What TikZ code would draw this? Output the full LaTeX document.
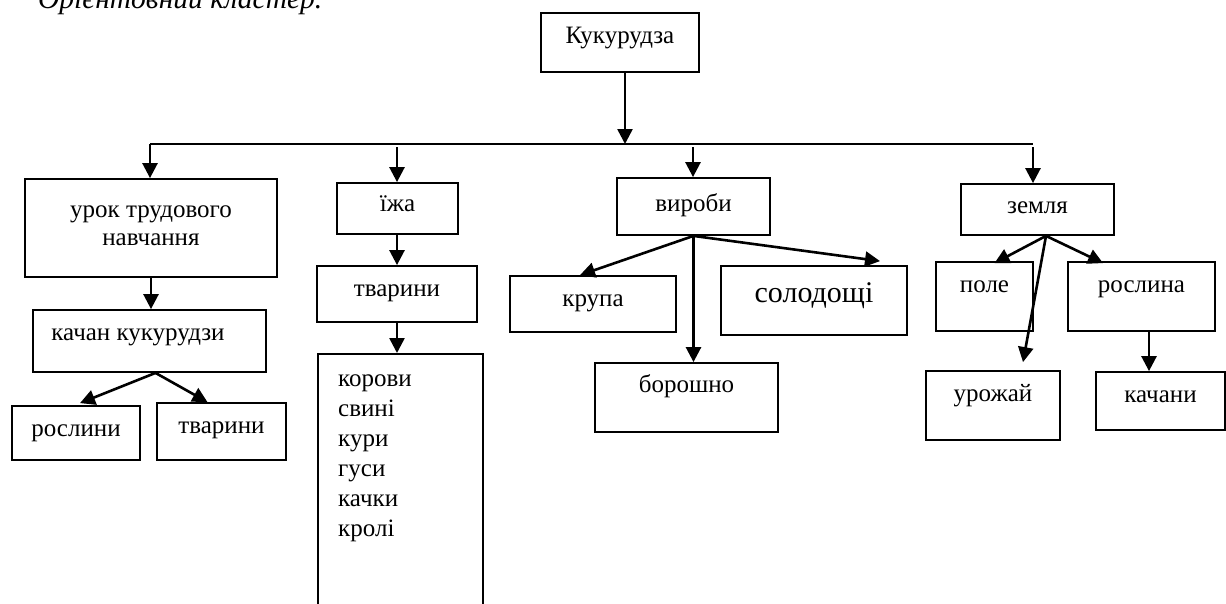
\documentclass[tikz,border=0pt]{standalone}
\usepackage{fontspec}
\setmainfont{Liberation Serif}
\usetikzlibrary{arrows.meta}
\begin{document}
\begin{tikzpicture}[x=1pt,y=-1pt,
  box/.style={draw, line width=1.8pt, inner sep=0pt, font=\fontsize{25}{28}\selectfont, text height=17.5pt, text depth=11pt},
  txt/.style={inner sep=0pt, font=\fontsize{25}{28}\selectfont, text height=17.5pt, text depth=11pt},
  txtm/.style={inner sep=0pt, font=\fontsize{25}{28}\selectfont, align=center},
  arr/.style={line width=2.6pt, -{Triangle[width=15pt,length=15pt]}},
  ln/.style={line width=2.6pt}]
\useasboundingbox (0,0) rectangle (1226,603);
% title (cut off at top)
\node[inner sep=0pt, anchor=base west, font=\fontsize{29.5}{32}\selectfont\itshape] (title) at (38,8) {Орієнтовний кластер.};
% boxes
\node[box, minimum width=158pt, minimum height=59pt] (kuk) at (620,42.5) {};
\node[txt] (kukT) at (620,40) {Кукурудза};
\node[box, minimum width=252pt, minimum height=98pt] (urok) at (151,228) {};
\node[txtm] (urokT) at (151,225.5) {урок трудового\\навчання};
\node[box, minimum width=233pt, minimum height=62pt] (kach) at (149.5,341) {};
\node[txt] (kachT) at (138,337) {качан кукурудзи};
\node[box, minimum width=128pt, minimum height=54pt] (rosl) at (76,433) {рослини};
\node[box, minimum width=129pt, minimum height=57pt] (tvar1) at (221.5,431.5) {};
\node[txt] (tvar1T) at (221.5,430) {тварини};
\node[box, minimum width=121pt, minimum height=51pt] (ija) at (397.5,208.5) {їжа};
\node[box, minimum width=160pt, minimum height=56pt] (tvar2) at (397,294) {};
\node[txt] (tvar2T) at (397,293) {тварини};
\node[box, anchor=north west, minimum width=165pt, minimum height=280pt] (list) at (317,353) {};
\node[txtm, anchor=north west, align=left, font=\fontsize{25}{30}\selectfont] (listT) at (338,375) {корови\\свині\\кури\\гуси\\качки\\кролі};
\node[box, minimum width=153pt, minimum height=57pt] (vyroby) at (693.5,206.5) {};
\node[txt] (vyrobyT) at (693.5,208) {вироби};
\node[box, minimum width=166pt, minimum height=56pt] (krupa) at (593,304) {};
\node[txt] (krupaT) at (593,303) {крупа};
\node[box, minimum width=186pt, minimum height=69pt] (solod) at (814,300.5) {};
\node[txt, font=\fontsize{30}{34}\selectfont, text height=21pt, text depth=13pt] (solodT) at (814,298) {солодощі};
\node[box, minimum width=183pt, minimum height=69pt] (borosh) at (686.5,397.5) {};
\node[txt] (boroshT) at (686.5,389) {борошно};
\node[box, minimum width=153pt, minimum height=51pt] (zemlia) at (1037.5,209.5) {};
\node[txt] (zemliaT) at (1037.5,210) {земля};
\node[box, minimum width=97pt, minimum height=69pt] (pole) at (984.5,296.5) {};
\node[txt] (poleT) at (984.5,289) {поле};
\node[box, minimum width=147pt, minimum height=69pt] (roslyna) at (1141.5,296.5) {};
\node[txt] (roslynaT) at (1141.5,289) {рослина};
\node[box, minimum width=134pt, minimum height=69pt] (urozh) at (993,405.5) {};
\node[txt] (urozhT) at (993,398) {урожай};
\node[box, minimum width=129pt, minimum height=58pt] (kachany) at (1160.5,401) {};
\node[txt] (kachanyT) at (1160.5,399) {качани};
% bus
\coordinate (j) at (625,144);
\coordinate (bl) at (150,144);
\coordinate (br) at (1033,144);
\coordinate (d2) at (397,147);
\coordinate (d3) at (693,147);
\coordinate (d4) at (1033,147);
\draw[arr] (kuk.south -| j) -- (j);
\draw[ln] (bl) -- (br);
\draw[arr] (bl) -- (urok.north -| bl);
\draw[arr] (d2) -- (ija.north -| d2);
\draw[arr] (d3) -- (vyroby.north -| d3);
\draw[arr] (d4) -- (zemlia.north -| d4);
% left branch
\draw[arr] (urok.south) -- (urok.south |- kach.north);
\draw[arr] ([xshift=6pt]kach.south) -- ([xshift=4pt,yshift=2pt]rosl.north);
\draw[arr] ([xshift=6pt]kach.south) -- ([xshift=-14pt]tvar1.north);
% food branch
\draw[arr] (ija.south -| d2) -- (tvar2.north -| d2);
\draw[arr] (tvar2.south -| d2) -- (list.north -| d2);
% products
\draw[arr] (vyroby.south) -- ([xshift=-13pt]krupa.north);
\draw[arr] (vyroby.south) -- (vyroby.south |- borosh.north);
\draw[arr] (vyroby.south) -- ([xshift=66pt,yshift=4pt]solod.north);
% land
\draw[arr] ([xshift=8.5pt]zemlia.south) -- ([xshift=10pt,yshift=-2pt]pole.north);
\draw[arr] ([xshift=8.5pt]zemlia.south) -- ([xshift=-38.5pt,yshift=-2pt]roslyna.north);
\draw[arr] ([xshift=8.5pt]zemlia.south) -- ([xshift=30pt,yshift=8pt]urozh.north);
\draw[arr] ([xshift=7.5pt]roslyna.south) -- ([xshift=7.5pt]roslyna.south |- kachany.north);
\end{tikzpicture}
\end{document}
